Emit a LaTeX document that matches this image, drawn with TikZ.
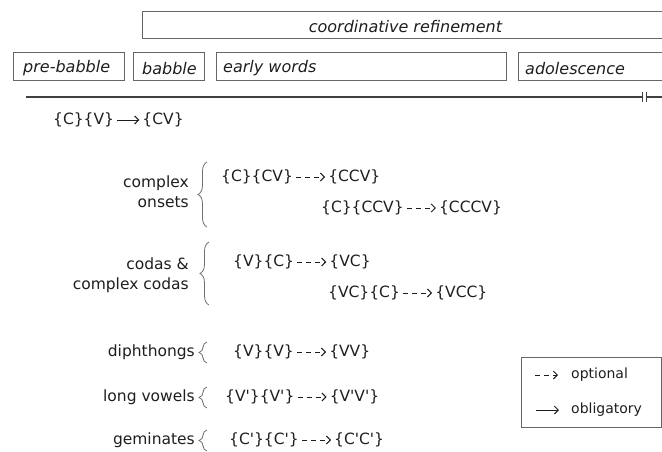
\documentclass[tikz,border=0pt]{standalone}
\usepackage{fontspec}
\setmainfont{DejaVu Sans}
\newfontfamily\rulefont{DejaVu Sans}[Ligatures=TeXOff]
\usetikzlibrary{arrows.meta,decorations.pathreplacing,positioning}
\definecolor{txt}{HTML}{1E1E1E}
\definecolor{boxc}{HTML}{666666}
\definecolor{bracec}{HTML}{707070}
\begin{document}
\begin{tikzpicture}[x=1pt,y=-1pt,
  every node/.style={text=txt},
  phase/.style={draw=boxc, line width=0.9pt, minimum height=28pt, anchor=north west, inner sep=0pt},
  phasetext/.style={anchor=west, inner sep=0pt, font=\fontsize{16}{19}\selectfont\itshape},
  rule/.style={anchor=west, inner xsep=3pt, inner ysep=1pt, font=\fontsize{15.5}{19}\rulefont},
  cat/.style={anchor=east, inner sep=0pt, align=right, font=\fontsize{15.5}{20}\selectfont},
  legtext/.style={anchor=west, inner sep=0pt, font=\fontsize{14}{17}\selectfont},
  opt/.style={draw=txt, line width=1pt, dash pattern=on 5pt off 4pt, -{Straight Barb[length=4pt,width=8pt]}},
  obl/.style={draw=txt, line width=1pt, -{Straight Barb[length=4pt,width=8pt]}},
  brc/.style={draw=bracec, line width=0.8pt, decorate, decoration={brace, amplitude=#1}},
  brc/.default=9pt,
]
\path[use as bounding box, clip] (0,0) rectangle (662,451);

% phase boxes
\node[phase, minimum width=526pt, minimum height=27pt] (coord) at (142,11) {};
\node[phasetext, anchor=center] (coordt) at ([yshift=-1.5pt]coord.center) {coordinative refinement};
\node[phase, minimum width=111pt] (pre) at (13,52) {};
\node[phasetext] (pret) at ([xshift=10pt,yshift=-2pt]pre.west) {pre-babble};
\node[phase, minimum width=71pt] (bab) at (133,52) {};
\node[phasetext] (babt) at ([xshift=9pt,yshift=-2pt]bab.west) {babble};
\node[phase, minimum width=290pt] (early) at (216,52) {};
\node[phasetext] (earlyt) at ([xshift=7pt,yshift=-2pt]early.west) {early words};
\node[phase, minimum width=160pt] (adol) at (518,52) {};
\node[phasetext] (adolt) at ([xshift=7pt,yshift=-2pt]adol.west) {adolescence};

% timeline
\coordinate (t0) at (26,97);
\coordinate (t1) at (642,97);
\coordinate (t2) at (646,97);
\coordinate (t3) at (662,97);
\draw[line width=1.2pt, draw=txt!85] (t0) -- (t1) (t2) -- (t3);
\draw[line width=1pt, draw=txt!85] ([yshift=-5pt]t1) -- ([yshift=5pt]t1)
  ([yshift=-5pt]t2) -- ([yshift=5pt]t2);

% first rule
\node[rule] (r0a) at (50,120) {\{C\}\{V\}};
\node[rule, right=22pt of r0a] (r0b) {\{CV\}};
\draw[obl] (r0a) -- (r0b);

% complex onsets
\node[cat] (onsets) at (189,192) {complex\\onsets};
\coordinate (bo1) at (207,227);
\coordinate (bo2) at (207,162);
\draw[brc] (bo1) -- (bo2);
\node[rule] (o1a) at (218,177) {\{C\}\{CV\}};
\node[rule, right=29pt of o1a] (o1b) {\{CCV\}};
\draw[opt] (o1a) -- (o1b);
\node[rule] (o2a) at (318,208) {\{C\}\{CCV\}};
\node[rule, right=29pt of o2a] (o2b) {\{CCCV\}};
\draw[opt] (o2a) -- (o2b);

% codas
\node[cat] (codas) at (189,275) {codas \&\\complex codas};
\coordinate (bc1) at (209,305);
\coordinate (bc2) at (209,242);
\draw[brc] (bc1) -- (bc2);
\node[rule] (c1a) at (230,262) {\{V\}\{C\}};
\node[rule, right=29pt of c1a] (c1b) {\{VC\}};
\draw[opt] (c1a) -- (c1b);
\node[rule] (c2a) at (325,293) {\{VC\}\{C\}};
\node[rule, right=29pt of c2a] (c2b) {\{VCC\}};
\draw[opt] (c2a) -- (c2b);

% diphthongs
\node[cat] (diph) at (195,352) {diphthongs};
\coordinate (bd1) at (207,363);
\coordinate (bd2) at (207,342);
\draw[brc=8pt] (bd1) -- (bd2);
\node[rule] (d1a) at (230,352) {\{V\}\{V\}};
\node[rule, right=29pt of d1a] (d1b) {\{VV\}};
\draw[opt] (d1a) -- (d1b);

% long vowels
\node[cat] (longv) at (195,397) {long vowels};
\coordinate (bl1) at (207,408);
\coordinate (bl2) at (207,387);
\draw[brc=8pt] (bl1) -- (bl2);
\node[rule] (l1a) at (222,397) {\{V'\}\{V'\}};
\node[rule, right=29pt of l1a] (l1b) {\{V'V'\}};
\draw[opt] (l1a) -- (l1b);

% geminates
\node[cat] (gem) at (195,440) {geminates};
\coordinate (bg1) at (207,451);
\coordinate (bg2) at (207,430);
\draw[brc=8pt] (bg1) -- (bg2);
\node[rule] (g1a) at (226,440) {\{C'\}\{C'\}};
\node[rule, right=29pt of g1a] (g1b) {\{C'C'\}};
\draw[opt] (g1a) -- (g1b);

% legend
\node[draw=boxc, line width=0.9pt, anchor=north west, minimum width=140pt, minimum height=70pt, inner sep=0pt] (legend) at (521,357) {};
\coordinate (la1) at (535,375);
\coordinate (la2) at (558,375);
\coordinate (lb1) at (536,410);
\coordinate (lb2) at (559,410);
\draw[opt] (la1) -- (la2);
\draw[obl] (lb1) -- (lb2);
\node[legtext] (lopt) at (571,375) {optional};
\node[legtext] (lobl) at (571,410) {obligatory};
\end{tikzpicture}
\end{document}
